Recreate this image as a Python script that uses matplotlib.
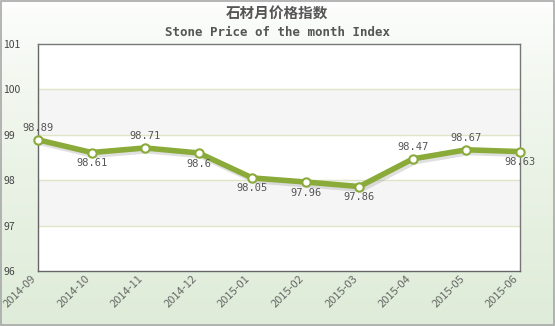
import numpy as np
import matplotlib
matplotlib.use("Agg")
import matplotlib.pyplot as plt
import matplotlib.patheffects as pe

plt.rcParams['font.family'] = ['Noto Sans CJK SC', 'DejaVu Sans']

months = ["2014-09", "2014-10", "2014-11", "2014-12", "2015-01",
          "2015-02", "2015-03", "2015-04", "2015-05", "2015-06"]
index_values = [98.89, 98.61, 98.71, 98.6, 98.05, 97.96, 97.86, 98.47, 98.67, 98.63]
value_labels = ["98.89", "98.61", "98.71", "98.6", "98.05", "97.96", "97.86", "98.47", "98.67", "98.63"]
label_above = [True, False, True, False, False, False, False, True, True, False]
y_ticks = [96, 97, 98, 99, 100, 101]

fig = plt.figure(figsize=(5.55, 3.26), dpi=100)

# gradient background (white at top, pale green at bottom)
bg = fig.add_axes([0, 0, 1, 1], zorder=-10)
grad = np.linspace(0, 1, 256).reshape(-1, 1)
c_top = np.array([1.0, 1.0, 1.0])
c_bot = np.array([0.875, 0.925, 0.85])
img = c_top + (c_bot - c_top) * grad[..., None] ** 0.7
bg.imshow(img, aspect="auto", extent=[0, 1, 0, 1], origin="upper")
bg.set_xlim(0, 1)
bg.set_ylim(0, 1)
bg.axis("off")
bg.add_patch(plt.Rectangle((0.001, 0.002), 0.997, 0.995, fill=False,
                           edgecolor="#a8a8a8", lw=1.2, transform=bg.transAxes))

ax = fig.add_axes([38 / 555, 1 - 271 / 326, (520 - 38) / 555, (271 - 44) / 326])
ax.set_facecolor("white")
x = np.arange(len(months))

# alternating bands
for lo in [97, 99]:
    ax.axhspan(lo, lo + 1, color="#f5f5f5", zorder=0)
for t in y_ticks[1:-1]:
    ax.axhline(t, color="#dfe6c8", lw=1, zorder=1)

ax.plot(x, index_values, color="#8aaa3a", lw=4, zorder=3,
        path_effects=[pe.SimpleLineShadow(offset=(1.5, -2), shadow_color="#999999", alpha=0.3),
                      pe.Normal()])
ax.plot(x, index_values, "o", ms=6, mfc="white", mec="#8aaa3a", mew=1.5, zorder=4, clip_on=False)

for xi, v, lab, up in zip(x, index_values, value_labels, label_above):
    if up:
        ax.annotate(lab, (xi, v), xytext=(0, 5), textcoords="offset points",
                    ha="center", va="bottom", fontsize=7.5, color="#555555",
                    family="DejaVu Sans Mono", zorder=5, annotation_clip=False)
    else:
        ax.annotate(lab, (xi, v), xytext=(0, -4), textcoords="offset points",
                    ha="center", va="top", fontsize=7.5, color="#555555",
                    family="DejaVu Sans Mono", zorder=5, annotation_clip=False)

ax.set_xlim(0, len(months) - 1)
ax.set_ylim(96, 101)
ax.set_yticks(y_ticks)
ax.set_yticklabels([str(t) for t in y_ticks], fontsize=7.5, color="#444444")
ax.set_xticks(x)
ax.set_xticklabels(months, rotation=45, ha="right", fontsize=8, color="#666666")
ax.tick_params(axis="both", length=0)
ax.tick_params(axis="y", pad=25)
ax.tick_params(axis="x", pad=2)
for lab in ax.get_yticklabels():
    lab.set_horizontalalignment("left")
for s in ax.spines.values():
    s.set_color("#777777")
    s.set_linewidth(1)
ax.spines["left"].set_color("#666666")
ax.spines["bottom"].set_color("#666666")

fig.text(0.5, 1 - 13 / 326, "石材月价格指数", ha="center", va="center",
         fontsize=10.5, color="#555555", fontweight="bold")
fig.text(0.5, 1 - 33 / 326, "Stone Price of the month Index", ha="center", va="center",
         fontsize=9, color="#555555", fontweight="bold", family="DejaVu Sans Mono")

fig.savefig("out.png", dpi=100)
